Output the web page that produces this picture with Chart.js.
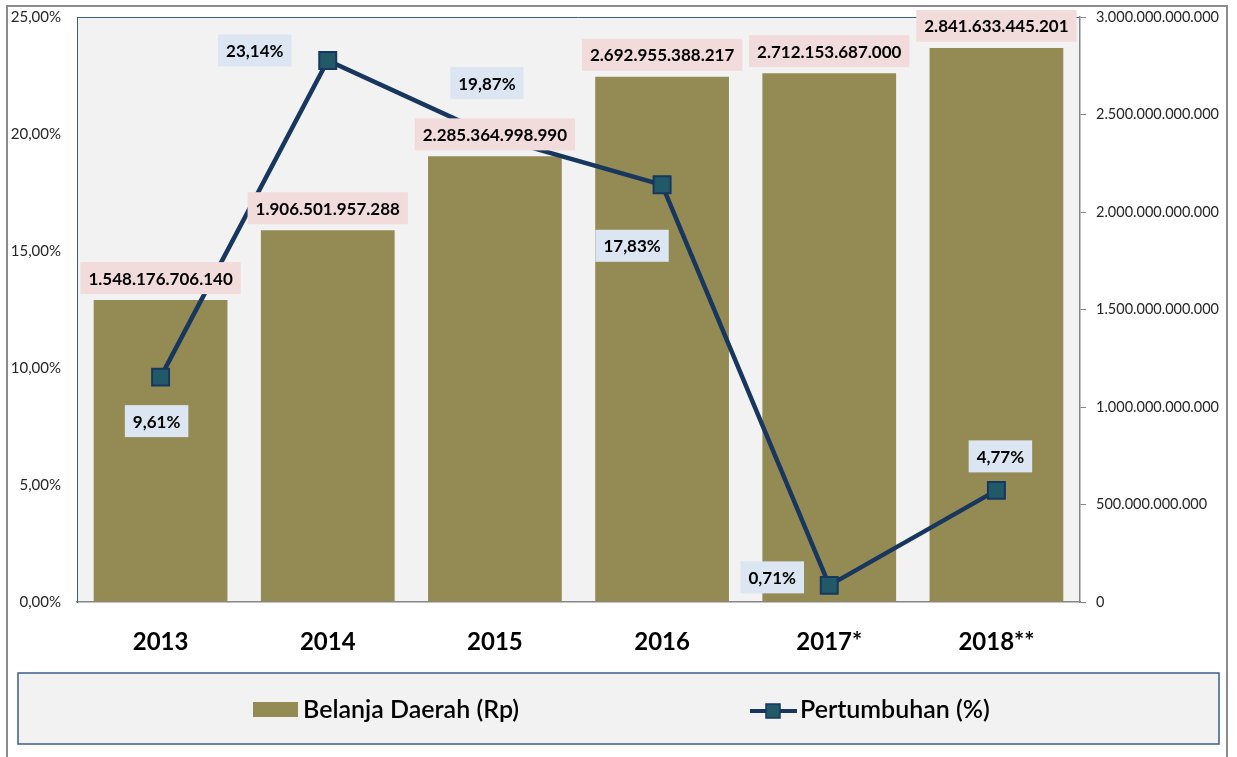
<!DOCTYPE html>
<html>
<head>
<meta charset="utf-8">
<script src="https://cdn.jsdelivr.net/npm/chart.js@4/dist/chart.umd.min.js"></script>
<style>
  html, body { margin: 0; padding: 0; background: #fff; }
  canvas { display: block; }
</style>
</head>
<body>
<canvas id="chart" width="1237" height="757"></canvas>
<script>
// Data
const years = ["2013", "2014", "2015", "2016", "2017*", "2018**"];
const belanja = [1548176706140, 1906501957288, 2285364998990, 2692955388217, 2712153687000, 2841633445201];
const pertumbuhan = [9.61, 23.14, 19.87, 17.83, 0.71, 4.77];

const pctMax = 25, pctStep = 5;
const rpMax = 3000000000000, rpStep = 500000000000;

const barColor = "#948a54";
const lineColor = "#17375e";
const markerColor = "#215968";

// label offsets for the growth line (dx, dy from the point)
const lineLabelOffsets = [[-4, 44], [-73, -10], [-8, -54], [-30, 61], [-57, -8], [4, -34]];

function rupiah(v) {
  return String(v).replace(/\B(?=(\d{3})+(?!\d))/g, ".");
}
function persen(v) {
  return v.toFixed(2).replace(".", ",") + "%";
}

Chart.defaults.font.family = "Lato, 'Open Sans', sans-serif";

function labelBox(ctx, text, cx, cy, bg) {
  ctx.font = "bold 17px Lato";
  const w = ctx.measureText(text).width + 16;
  const h = 32;
  ctx.fillStyle = bg;
  ctx.fillRect(cx - w / 2, cy - h / 2, w, h);
  ctx.fillStyle = "#000";
  ctx.textAlign = "center";
  ctx.textBaseline = "middle";
  ctx.fillText(text, cx, cy + 1);
}

// fixed axis width, no extra label padding above/below
function fixWidth(w) {
  return s => {
    s.width = w;
    s.paddingTop = 0;
    s.paddingBottom = 0;
  };
}

// page frame + plot background
const frame = {
  id: "frame",
  beforeDraw(chart) {
    const { ctx, chartArea: a } = chart;
    ctx.save();
    ctx.fillStyle = "#fff";
    ctx.fillRect(0, 0, chart.width, chart.height);
    ctx.strokeStyle = "#8c8c8c";
    ctx.lineWidth = 2;
    ctx.beginPath();
    ctx.moveTo(7, chart.height + 2);
    ctx.lineTo(7, 6);
    ctx.lineTo(1227, 6);
    ctx.lineTo(1227, chart.height + 2);
    ctx.stroke();
    ctx.fillStyle = "#f2f2f2";
    ctx.fillRect(a.left, a.top, a.right - a.left, a.bottom - a.top);
    ctx.strokeStyle = "#3b5e8c";
    ctx.lineWidth = 1;
    ctx.beginPath();
    ctx.moveTo(a.left, a.top + 0.5);
    ctx.lineTo(a.right, a.top + 0.5);
    ctx.stroke();
    ctx.restore();
  }
};

// value labels for bars and line
const valueLabels = {
  id: "valueLabels",
  afterDatasetsDraw(chart) {
    const ctx = chart.ctx;
    ctx.save();
    chart.getDatasetMeta(1).data.forEach((bar, i) => {
      labelBox(ctx, rupiah(belanja[i]), bar.x, bar.y - 22, "#f2dcdb");
    });
    chart.getDatasetMeta(0).data.forEach((pt, i) => {
      const [dx, dy] = lineLabelOffsets[i];
      labelBox(ctx, persen(pertumbuhan[i]), pt.x + dx, pt.y + dy, "#dce6f2");
    });
    ctx.restore();
  }
};

// legend panel
const legendPanel = {
  id: "legendPanel",
  afterDraw(chart) {
    const ctx = chart.ctx;
    const [lineSet, barSet] = chart.data.datasets;
    ctx.save();
    ctx.fillStyle = "#f2f2f2";
    ctx.fillRect(18, 673, 1201, 71);
    ctx.strokeStyle = "#3b5e8c";
    ctx.lineWidth = 1.5;
    ctx.strokeRect(18, 673, 1201, 71);

    ctx.font = "600 25px Lato";
    ctx.textAlign = "left";
    ctx.textBaseline = "middle";
    ctx.fillStyle = barSet.backgroundColor;
    ctx.fillRect(253, 702, 45, 15);
    ctx.fillStyle = "#000";
    ctx.fillText(barSet.label, 303, 710);

    ctx.strokeStyle = lineSet.borderColor;
    ctx.lineWidth = 4;
    ctx.beginPath();
    ctx.moveTo(750, 711);
    ctx.lineTo(797, 711);
    ctx.stroke();
    ctx.fillStyle = lineSet.pointBackgroundColor;
    ctx.lineWidth = 1.5;
    ctx.fillRect(766, 704, 14, 14);
    ctx.strokeRect(766, 704, 14, 14);
    ctx.fillStyle = "#000";
    ctx.fillText(lineSet.label, 800, 710);
    ctx.restore();
  }
};

new Chart(document.getElementById("chart"), {
  data: {
    labels: years,
    datasets: [
      {
        type: "line",
        label: "Pertumbuhan (%)",
        data: pertumbuhan,
        yAxisID: "y",
        order: 0,
        borderColor: lineColor,
        borderWidth: 4.5,
        pointStyle: "rect",
        pointRadius: 12,
        pointBorderWidth: 2,
        pointBackgroundColor: markerColor,
        pointBorderColor: lineColor,
        tension: 0,
        clip: false
      },
      {
        type: "bar",
        label: "Belanja Daerah (Rp)",
        data: belanja,
        yAxisID: "y1",
        order: 1,
        backgroundColor: barColor,
        barPercentage: 0.8,
        categoryPercentage: 1
      }
    ]
  },
  options: {
    responsive: false,
    animation: false,
    layout: { autoPadding: false, padding: { left: 7, right: 0, top: 17, bottom: 95 } },
    plugins: {
      legend: { display: false },
      tooltip: { enabled: false }
    },
    scales: {
      x: {
        grid: { drawOnChartArea: false, drawTicks: false },
        border: { color: "#868686", width: 1.5 },
        ticks: { color: "#000", font: { size: 24, weight: "bold" }, padding: 26 },
        afterFit(s) { s.height = 60; }
      },
      y: {
        position: "left",
        min: 0,
        max: pctMax,
        grid: { drawOnChartArea: false, drawTicks: false },
        border: { color: "#3b5e8c", width: 1 },
        ticks: {
          stepSize: pctStep,
          color: "#262626",
          font: { size: 15 },
          padding: 16,
          callback: v => persen(v)
        },
        afterFit: fixWidth(70)
      },
      y1: {
        position: "right",
        min: 0,
        max: rpMax,
        grid: { drawOnChartArea: false, drawTicks: true, tickLength: 6, color: "#868686" },
        border: { color: "#868686", width: 1.5 },
        ticks: {
          stepSize: rpStep,
          color: "#262626",
          font: { size: 14.5 },
          padding: 10,
          callback: v => rupiah(v)
        },
        afterFit: fixWidth(157)
      }
    }
  },
  plugins: [frame, valueLabels, legendPanel]
});
</script>
</body>
</html>
